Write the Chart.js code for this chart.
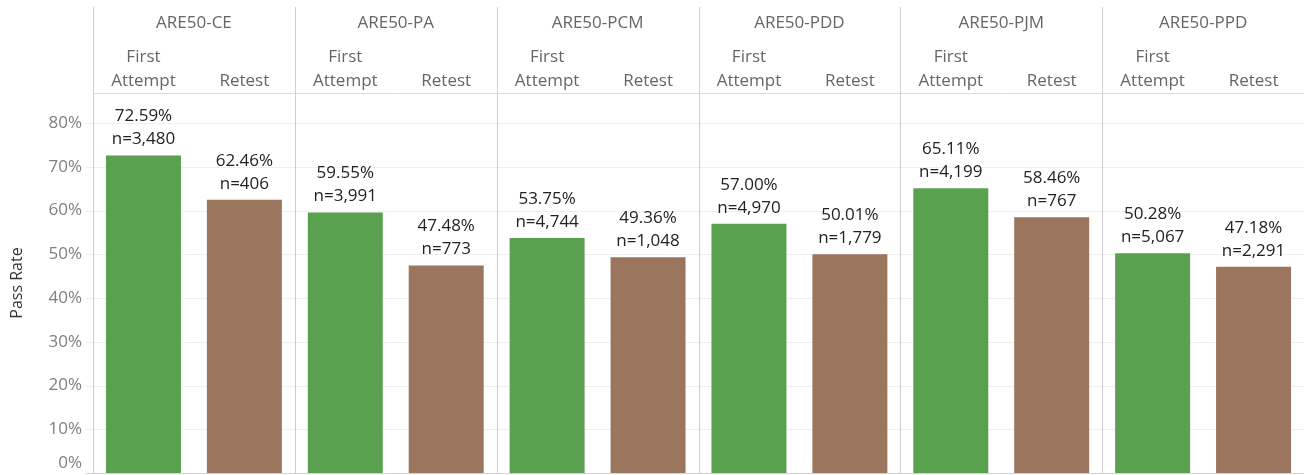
<!DOCTYPE html>
<html>
<head>
<meta charset="utf-8">
<script src="https://cdn.jsdelivr.net/npm/chart.js@4/dist/chart.umd.min.js"></script>
<style>
  html, body { margin: 0; padding: 0; background: #fff; }
  #wrap { width: 1304px; height: 475px; position: relative; }
</style>
</head>
<body>
<div id="wrap"><canvas id="c" width="1304" height="475"></canvas></div>
<script>
const exams = ['ARE50-CE', 'ARE50-PA', 'ARE50-PCM', 'ARE50-PDD', 'ARE50-PJM', 'ARE50-PPD'];
const attemptTypes = ['First Attempt', 'Retest'];
const firstRates = [72.59, 59.55, 53.75, 57.00, 65.11, 50.28];
const retestRates = [62.46, 47.48, 49.36, 50.01, 58.46, 47.18];
const firstN = [3480, 3991, 4744, 4970, 4199, 5067];
const retestN = [406, 773, 1048, 1779, 767, 2291];
const yTicks = [0, 10, 20, 30, 40, 50, 60, 70, 80];

const GREEN = '#59A14F', BROWN = '#9C755F';
const FONT = '"Open Sans", "Noto Sans", sans-serif';

const labels = [], values = [], counts = [], colors = [];
exams.forEach((e, i) => {
  labels.push(e + ' | ' + attemptTypes[0]); values.push(firstRates[i]); counts.push(firstN[i]); colors.push(GREEN);
  labels.push(e + ' | ' + attemptTypes[1]); values.push(retestRates[i]); counts.push(retestN[i]); colors.push(BROWN);
});

const decor = {
  id: 'decor',
  beforeDatasetsDraw(chart) {
    const { ctx, chartArea: a, scales } = chart;
    const x = scales.x, y = scales.y;
    ctx.save();
    // grid lines (with small tick stubs to the left)
    ctx.strokeStyle = '#efefef'; ctx.lineWidth = 1;
    yTicks.forEach(t => {
      if (t === 0) return;
      const py = Math.round(y.getPixelForValue(t)) + 0.5;
      ctx.beginPath(); ctx.moveTo(86, py); ctx.lineTo(a.right, py); ctx.stroke();
    });
    // bottom axis line
    ctx.strokeStyle = '#d4d4d4';
    ctx.beginPath(); ctx.moveTo(86, a.bottom + 0.5); ctx.lineTo(a.right, a.bottom + 0.5); ctx.stroke();
    // header bottom line
    ctx.strokeStyle = '#dcdcdc';
    ctx.beginPath(); ctx.moveTo(a.left, a.top + 0.5); ctx.lineTo(a.right, a.top + 0.5); ctx.stroke();
    // panel dividers
    ctx.strokeStyle = '#cfcfcf';
    const pw = (a.right - a.left) / exams.length;
    for (let k = 0; k < exams.length; k++) {
      const xx = Math.round(a.left + pw * k) + 0.5;
      ctx.beginPath(); ctx.moveTo(xx, 7); ctx.lineTo(xx, a.bottom); ctx.stroke();
    }
    // header text
    ctx.fillStyle = '#666'; ctx.font = '17px ' + FONT; ctx.textAlign = 'center'; ctx.textBaseline = 'middle';
    exams.forEach((e, i) => {
      const x1 = x.getPixelForValue(2 * i), x2 = x.getPixelForValue(2 * i + 1);
      ctx.fillText(e, (x1 + x2) / 2, 23);
      const parts = attemptTypes[0].split(' ');
      ctx.fillText(parts[0], x1, 57);
      ctx.fillText(parts[1], x1, 81);
      ctx.fillText(attemptTypes[1], x2, 81);
    });
    // y tick labels
    ctx.fillStyle = '#808080'; ctx.textAlign = 'right'; ctx.font = '17px ' + FONT;
    yTicks.forEach(t => {
      let py = y.getPixelForValue(t);
      py = Math.min(py, a.bottom - 10);
      ctx.fillText(t + '%', 82, py);
    });
    // y title
    ctx.save();
    ctx.translate(17, (a.top + a.bottom) / 2);
    ctx.rotate(-Math.PI / 2);
    ctx.fillStyle = '#333'; ctx.textAlign = 'center'; ctx.font = '16px ' + FONT;
    ctx.fillText('Pass Rate', 0, 0);
    ctx.restore();
    ctx.restore();
  },
  afterDatasetsDraw(chart) {
    const { ctx } = chart;
    const meta = chart.getDatasetMeta(0);
    ctx.save();
    ctx.fillStyle = '#222'; ctx.font = '17px ' + FONT; ctx.textAlign = 'center'; ctx.textBaseline = 'middle';
    meta.data.forEach((bar, i) => {
      ctx.fillText(values[i].toFixed(2) + '%', bar.x, bar.y - 39);
      ctx.fillText('n=' + counts[i].toLocaleString('en-US'), bar.x, bar.y - 16);
    });
    ctx.restore();
  }
};

new Chart(document.getElementById('c'), {
  type: 'bar',
  data: {
    labels,
    datasets: [{ data: values, backgroundColor: colors, barPercentage: 0.743, categoryPercentage: 1, borderWidth: 0 }]
  },
  options: {
    responsive: false,
    animation: false,
    layout: { padding: { top: 93, bottom: 2, left: 0, right: 0 } },
    plugins: { legend: { display: false }, tooltip: { enabled: false } },
    scales: {
      x: { display: false },
      y: {
        min: 0, max: 86.9,
        afterBuildTicks(s) { s.ticks = yTicks.map(v => ({ value: v })); },
        afterFit(s) { s.width = 93; },
        ticks: { display: false },
        grid: { display: false },
        border: { display: false }
      }
    }
  },
  plugins: [decor]
});
</script>
</body>
</html>
